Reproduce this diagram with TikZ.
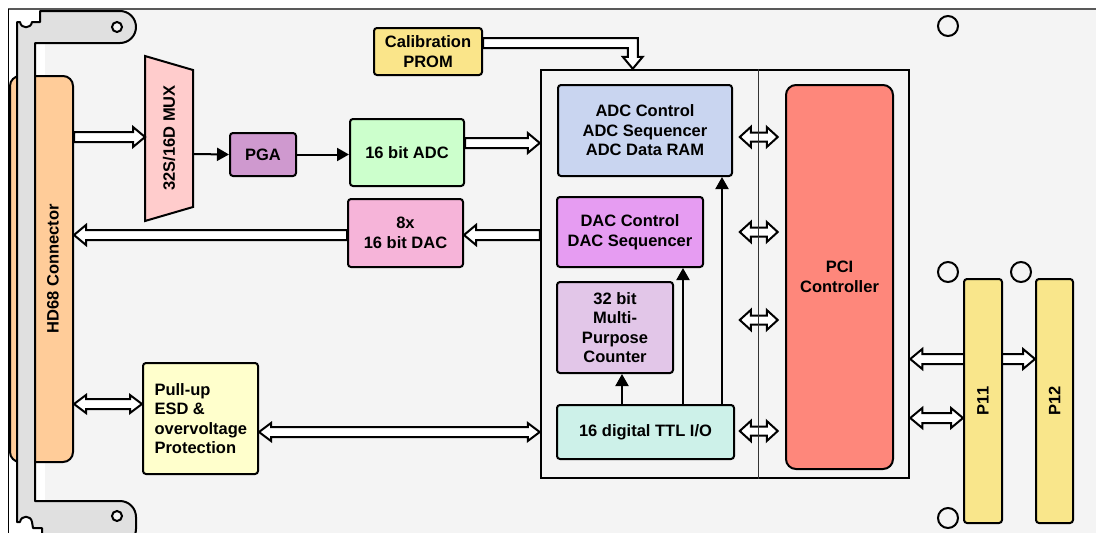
\documentclass[tikz,border=0pt]{standalone}
\usepackage{fontspec}
\setmainfont{Liberation Sans}
\usetikzlibrary{calc,arrows.meta}

\definecolor{pcb}{HTML}{F4F4F4}
\definecolor{panel}{HTML}{E0E0E0}
\definecolor{hdfill}{HTML}{FFCC99}
\definecolor{muxfill}{HTML}{FFCCCC}
\definecolor{pgafill}{HTML}{CF99CF}
\definecolor{adcfill}{HTML}{CCFFCC}
\definecolor{calfill}{HTML}{FAE58A}
\definecolor{dacfill}{HTML}{F6B4D9}
\definecolor{pullfill}{HTML}{FFFFCC}
\definecolor{adccfill}{HTML}{C9D5F0}
\definecolor{daccfill}{HTML}{E69CF2}
\definecolor{cntfill}{HTML}{E2C6E8}
\definecolor{ttlfill}{HTML}{CDF1E9}
\definecolor{pcifill}{HTML}{FE877B}
\definecolor{pfill}{HTML}{F9E68B}

\newcommand\blkfont{\fontsize{16.5}{19.5}\selectfont\bfseries}

% hollow block arrow, head at #2: from, to, body half width, head half width, head length
\newcommand\hollowone[5]{%
  \coordinate (ha) at (#1);
  \coordinate (hb) at (#2);
  \coordinate (hc) at ($(hb)!#5!(ha)$);
  \filldraw[hollow] ($(ha)!#3!90:(hb)$) -- ($(hc)!#3!90:(hb)$) -- ($(hc)!#4!90:(hb)$)
    -- (hb) -- ($(hc)!#4!-90:(hb)$) -- ($(hc)!#3!-90:(hb)$) -- ($(ha)!#3!-90:(hb)$) -- cycle;}

% hollow block arrow with a head at both ends
\newcommand\hollowtwo[5]{%
  \coordinate (ha) at (#1);
  \coordinate (hb) at (#2);
  \coordinate (hc) at ($(hb)!#5!(ha)$);
  \coordinate (he) at ($(ha)!#5!(hb)$);
  \filldraw[hollow] (ha) -- ($(he)!#4!90:(hb)$) -- ($(he)!#3!90:(hb)$) -- ($(hc)!#3!90:(hb)$)
    -- ($(hc)!#4!90:(hb)$) -- (hb) -- ($(hc)!#4!-90:(hb)$) -- ($(hc)!#3!-90:(hb)$)
    -- ($(he)!#3!-90:(hb)$) -- ($(he)!#4!-90:(hb)$) -- cycle;}

\begin{document}
\begin{tikzpicture}[x=1pt,y=-1pt,
  blk/.style={draw, line width=2pt, rounded corners=3pt, inner sep=0pt, align=center, font=\blkfont},
  hollow/.style={draw, fill=white, line width=2pt, line join=miter},
  solidarrow/.style={line width=2pt, -{Triangle[length=12pt,width=13pt]}},
  hole/.style={draw, line width=2pt},
]
\useasboundingbox (0,0) rectangle (1096,533);
\clip (0,0) rectangle (1096,533);

% board
\fill[white] (0,0) rectangle (1096,533);
\fill[pcb] (45,9) rectangle (1096,533);
\draw[line width=1.5pt, black!65] (8,9) -- (1096,9);
\draw[line width=1pt] (8,9) -- (8,533);

% front connector
\node[blk, fill=hdfill, rounded corners=10pt, minimum width=63pt, minimum height=386pt] (hdc) at (41.5,269) {};

% front panel bracket
\filldraw[fill=panel, line width=2pt, line join=round]
  (17,22) -- (20,22) .. controls (21,29) and (31,29) .. (32,22) -- (40,22) -- (40,11)
  [rounded corners=16pt] -- (136,11) -- (136,43) [sharp corners] -- (35,43)
  -- (35,501) [rounded corners=16pt] -- (136,501) -- (136,545) [sharp corners]
  -- (42,545) -- (42,528) -- (33,528) -- (32,522) .. controls (31,515) and (21,515) .. (20,522)
  -- (17,522) -- cycle;
\filldraw[fill=pcb, line width=2pt] (117,27) circle[radius=5];
\filldraw[fill=pcb, line width=2pt] (117,516) circle[radius=5];
\node[rotate=90, font=\blkfont] (hdtext) at (53,269) {HD68 Connector};

% mounting holes
\draw[hole] (948,26) circle[radius=10];
\draw[hole] (948,272) circle[radius=10];
\draw[hole] (1021,272) circle[radius=10];
\draw[hole] (948,518) circle[radius=10];

% analog front end
\coordinate (m1) at (145,56);
\coordinate (m2) at (193,70);
\coordinate (m3) at (193,207);
\coordinate (m4) at (145,221);
\filldraw[fill=muxfill, line width=2pt] (m1) -- (m2) -- (m3) -- (m4) -- cycle;
\node[rotate=90, font=\blkfont] (mux) at (169,138) {32S/16D MUX};
\coordinate (muxin) at (145,137);
\coordinate (muxout) at (193,154);

\node[blk, fill=pgafill, minimum width=66pt, minimum height=43pt] (pga) at (263,154.5) {PGA};
\node[blk, fill=adcfill, minimum width=114pt, minimum height=67pt] (adc) at (407,152.5) {16 bit ADC};
\node[blk, fill=calfill, minimum width=108pt, minimum height=47pt] (prom) at (428,51.5) {Calibration\\PROM};
\node[blk, fill=dacfill, minimum width=115pt, minimum height=68pt] (dac) at (405.5,233) {8x\\16 bit DAC};
\node[blk, fill=pullfill, minimum width=115pt, minimum height=111pt, align=left] (pull) at (200.5,418.5)
  {\parbox{92pt}{\raggedright Pull-up\\ESD \&\\overvoltage\\Protection}};

% FPGA / controller area
\node[draw, line width=2.5pt, minimum width=368pt, minimum height=408pt, inner sep=0pt] (big) at (725,274) {};
\node[blk, fill=adccfill, minimum width=174pt, minimum height=91pt] (adcc) at (645,130.5) {ADC Control\\ADC Sequencer\\ADC Data RAM};
\node[blk, fill=daccfill, minimum width=146pt, minimum height=70pt] (dacc) at (630,232) {DAC Control\\DAC Sequencer};
\node[blk, fill=cntfill, minimum width=116pt, minimum height=91pt] (cnt) at (615,327.5) {32 bit\\Multi-\\Purpose\\Counter};
\node[blk, fill=ttlfill, minimum width=177pt, minimum height=54pt] (ttl) at (645.5,432) {16 digital TTL I/O};
\node[blk, fill=pcifill, rounded corners=10pt, minimum width=107pt, minimum height=384pt] (pci) at (839.5,277) {PCI\\Controller};

% signal flow
\hollowone{hdc.east |- muxin}{muxin}{5pt}{10pt}{12pt}
\draw[solidarrow] (muxout) -- (pga.west);
\draw[solidarrow] (pga.east) -- (adc.west |- pga.east);
\coordinate (adcout) at ($(adc.east)+(0,-9.5)$);
\hollowone{adcout}{big.west |- adcout}{5pt}{10pt}{12pt}
\coordinate (dacin) at ($(dac.east)+(0,2)$);
\hollowone{big.west |- dacin}{dacin}{5pt}{10pt}{12pt}
\hollowone{$(dac.west)+(0,2)$}{hdc.east |- dacin}{5pt}{10pt}{12pt}
\coordinate (pullin) at ($(pull.west)+(0,-14.5)$);
\hollowtwo{hdc.east |- pullin}{pullin}{5pt}{9pt}{12pt}
\coordinate (pullout) at ($(pull.east)+(0,13.5)$);
\hollowtwo{pullout}{big.west |- pullout}{5pt}{9pt}{12pt}

% calibration data into the controller
\coordinate (calA) at ($(prom.east)+(0,-8.5)$);
\coordinate (calB) at ($(big.north west)+(93,0)$);
\filldraw[hollow] ($(calA)+(0,-5)$) -- ($(calB |- calA)+(5,-5)$) -- ($(calB)+(5,-12)$)
  -- ($(calB)+(10,-12)$) -- (calB) -- ($(calB)+(-10,-12)$) -- ($(calB)+(-5,-12)$)
  -- ($(calB |- calA)+(-5,5)$) -- ($(calA)+(0,5)$) -- cycle;

% digital I/O paths
\coordinate (t1) at ($(ttl.north west)+(66,0)$);
\coordinate (t2) at ($(ttl.north west)+(127,0)$);
\coordinate (t3) at ($(ttl.north west)+(166,0)$);
\draw[solidarrow] (t1) -- (t1 |- cnt.south);
\draw[solidarrow] (t2) -- (t2 |- dacc.south);
\draw[solidarrow] (t3) -- (t3 |- adcc.south);

% local bus to the PCI controller
\coordinate (dv) at ($(big.north west)+(219,0)$);
\hollowtwo{$(dv |- adcc.east)+(-19,6.5)$}{$(dv |- adcc.east)+(19,6.5)$}{4.5pt}{10pt}{11pt}
\hollowtwo{$(dv |- dacc.east)+(-19,0)$}{$(dv |- dacc.east)+(19,0)$}{4.5pt}{10pt}{11pt}
\hollowtwo{$(dv |- cnt.east)+(-19,-7.5)$}{$(dv |- cnt.east)+(19,-7.5)$}{4.5pt}{10pt}{11pt}
\hollowtwo{$(dv |- ttl.east)+(-19,-1)$}{$(dv |- ttl.east)+(19,-1)$}{4.5pt}{10pt}{11pt}
\draw[line width=1pt, black!80] (dv) -- (dv |- big.south);

% PCI connectors
\node[blk, fill=pfill, minimum width=37pt, minimum height=244pt] (p12) at (1054.5,401) {};
\hollowtwo{$(big.east)+(0,85)$}{$(p12.west |- big.east)+(0,85)$}{5pt}{10pt}{12pt}
\node[blk, fill=pfill, minimum width=38pt, minimum height=244pt] (p11) at (983,401) {};
\hollowtwo{$(big.east)+(0,144)$}{$(p11.west |- big.east)+(0,144)$}{5pt}{10pt}{12pt}
\node[rotate=90, font=\blkfont] (p11text) at (p11) {P11};
\node[rotate=90, font=\blkfont] (p12text) at (p12) {P12};
\end{tikzpicture}
\end{document}
